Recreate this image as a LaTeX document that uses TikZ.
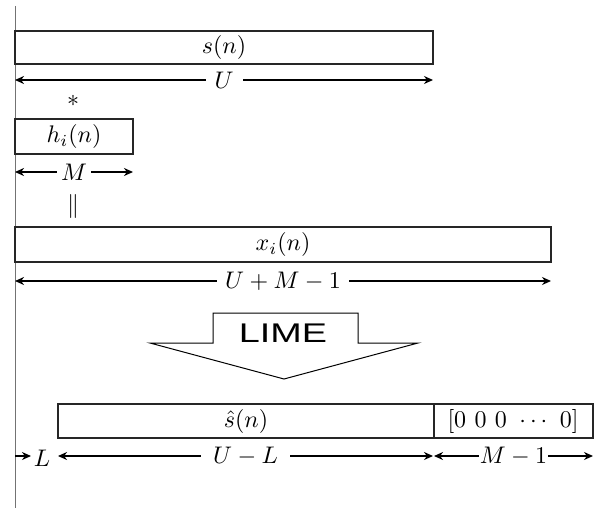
\documentclass[tikz,border=0pt]{standalone}
\usepackage{fontspec}
\newfontfamily\limefont{Liberation Sans}
\usetikzlibrary{arrows.meta}
\newcommand{\zzbig}[1]{\scalebox{2.4}{#1}}
\begin{document}
\begin{tikzpicture}[x=1pt,y=-1pt,
  bar/.style={draw=black!85,line width=1.6pt,inner sep=0pt},
  dim/.style={line width=1.6pt,{Stealth[length=9pt,width=8pt]}-{Stealth[length=9pt,width=8pt]}},
  dimr/.style={line width=1.6pt,-{Stealth[length=9pt,width=8pt]}},
  lab/.style={fill=white,inner sep=3pt},
  txt/.style={inner sep=0pt}]
\useasboundingbox (0,0) rectangle (601,508);
% vertical axis
\coordinate (vt) at (15,6);
\coordinate (vb) at (15,508);
\draw[black!55,line width=1pt] (vt) -- (vb);
% s(n)
\draw[bar] (15,31) rectangle (433,64);
\node[txt] (s) at (224,47.5) {\zzbig{$s(n)$}};
\coordinate (u1) at (15,80); \coordinate (u2) at (433,80);
\draw[dim] (u1) -- node[lab,inner xsep=9pt] (U) {\zzbig{$U$}} (u2);
\node[txt] (star) at (73,101) {\zzbig{$*$}};
% h_i(n)
\draw[bar] (15,119) rectangle (133,154);
\node[txt] (h) at (74,136.5) {\zzbig{$h_i(n)$}};
\coordinate (m1) at (15,172); \coordinate (m2) at (133,172);
\draw[dim] (m1) -- node[lab,inner xsep=4pt] (M) {\zzbig{$M$}} (m2);
\node[txt] (eq) at (73,206) {\zzbig{$\Vert$}};
% x_i(n)
\draw[bar] (15,227) rectangle (551,262);
\node[txt] (x) at (283,244.5) {\zzbig{$x_i(n)$}};
\coordinate (x1) at (15,281); \coordinate (x2) at (551,281);
\draw[dim] (x1) -- node[lab,inner xsep=8pt] (UM) {\zzbig{$U+M-1$}} (x2);
% LIME arrow
\draw[black,line width=1pt,fill=white] (213,313) -- (358,313) -- (358,343) -- (418,343) -- (284,379) -- (150,343) -- (213,343) -- cycle;
\node[inner sep=0pt,anchor=base] (lime) at (283,342) {\limefont\fontsize{27}{30}\selectfont\scalebox{1.4}[1]{LIME}};
% s hat and zeros
\draw[bar] (58,404) rectangle (593,438);
\draw[bar] (434,404) -- (434,438);
\node[txt] (sh) at (246,421) {\zzbig{$\hat{s}(n)$}};
\node[txt] (z) at (513,421) {\zzbig{$[0\hspace{3.5pt}0\hspace{3.5pt}0\hspace{3.5pt}\cdots\hspace{3.5pt}0]$}};
\coordinate (l1) at (15,456); \coordinate (l2) at (31,456);
\draw[dimr] (l1) -- (l2);
\node[txt] (L) at (42,458) {\zzbig{$L$}};
\coordinate (a1) at (58,456); \coordinate (a2) at (433,456);
\draw[dim] (a1) -- node[lab,inner xsep=12pt] (UL) {\zzbig{$U-L$}} (a2);
\coordinate (b1) at (434,456); \coordinate (b2) at (593,456);
\draw[dim] (b1) -- node[lab,inner xsep=1pt] (M1) {\zzbig{$M-1$}} (b2);
\end{tikzpicture}
\end{document}
